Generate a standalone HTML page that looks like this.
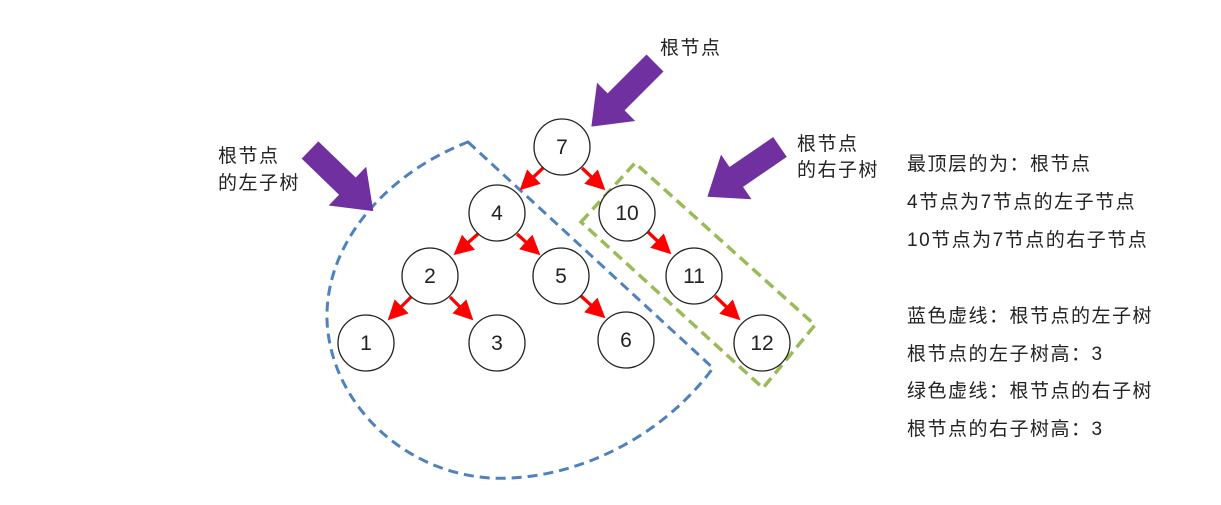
<!DOCTYPE html>
<html><head><meta charset="utf-8"><style>
html,body{margin:0;padding:0;background:#fff;}
svg text{font-family:"Liberation Sans","Noto Sans CJK SC",sans-serif;fill:#222;}
</style></head><body>
<svg width="1221" height="500" viewBox="0 0 1221 500" xmlns="http://www.w3.org/2000/svg">
<defs>
<marker id="ah" markerWidth="6" markerHeight="6" refX="5" refY="3" orient="auto" markerUnits="strokeWidth">
<path d="M0,0 L6,3 L0,6 Z" fill="#f00"/></marker>
</defs>
<path d="M468,142 L713,368 C660,440 570,482 490,478 C400,472 330,400 327,320 C325,240 390,172 468,142 Z" fill="none" stroke="#4f81bd" stroke-width="3" stroke-dasharray="10,6"/>
<polygon points="581,222 635,163 815,325 763,388" fill="none" stroke="#9bbb59" stroke-width="3.5" stroke-dasharray="11,6"/>
<g stroke="#f00" stroke-width="3.3" fill="none" marker-end="url(#ah)">
<line x1="543" y1="168" x2="522" y2="188"/>
<line x1="582" y1="168" x2="603" y2="188"/>
<line x1="478" y1="234" x2="456" y2="253"/>
<line x1="517" y1="234" x2="538" y2="253"/>
<line x1="411" y1="297" x2="390" y2="318"/>
<line x1="450" y1="297" x2="471" y2="318"/>
<line x1="581" y1="296" x2="603" y2="316"/>
<line x1="648" y1="232" x2="669" y2="252"/>
<line x1="715" y1="296" x2="738" y2="318"/>
</g>
<g fill="#fff" stroke="#222" stroke-width="1.3">
<circle cx="562" cy="147" r="28"/><circle cx="497" cy="213" r="28"/><circle cx="627" cy="213" r="28"/>
<circle cx="430" cy="276" r="28"/><circle cx="561" cy="276" r="28"/><circle cx="694" cy="276" r="28"/>
<circle cx="366" cy="343" r="28"/><circle cx="497" cy="343" r="28"/><circle cx="626" cy="340" r="28"/><circle cx="762" cy="343" r="28"/>
</g>
<g font-size="21" text-anchor="middle">
<text x="562" y="154">7</text><text x="497" y="220">4</text><text x="627" y="220">10</text>
<text x="430" y="283">2</text><text x="561" y="283">5</text><text x="694" y="283">11</text>
<text x="366" y="350">1</text><text x="497" y="350">3</text><text x="626" y="347">6</text><text x="762" y="350">12</text>
</g>
<g fill="#7030a0">
<path transform="translate(655,63) rotate(135)" d="M0,-12 L55,-12 L55,-27 L90,0 L55,27 L55,12 L0,12 Z"/>
<path transform="translate(780,147) rotate(145.6)" d="M0,-12 L53,-12 L53,-27 L88,0 L53,27 L53,12 L0,12 Z"/>
<path transform="translate(310,150) rotate(44)" d="M0,-12 L52,-12 L52,-27 L88,0 L52,27 L52,12 L0,12 Z"/>
</g>
<g font-size="19" letter-spacing="1.5">
<text x="660" y="54">根节点</text>
<text x="218" y="162">根节点</text><text x="218" y="189">的左子树</text>
<text x="797" y="150">根节点</text><text x="797" y="176">的右子树</text>
<text x="907" y="170">最顶层的为：根节点</text>
<text x="907" y="208">4节点为7节点的左子节点</text>
<text x="907" y="246">10节点为7节点的右子节点</text>
<text x="907" y="322">蓝色虚线：根节点的左子树</text>
<text x="907" y="360">根节点的左子树高：3</text>
<text x="907" y="397">绿色虚线：根节点的右子树</text>
<text x="907" y="435">根节点的右子树高：3</text>
</g>
</svg>
</body></html>
